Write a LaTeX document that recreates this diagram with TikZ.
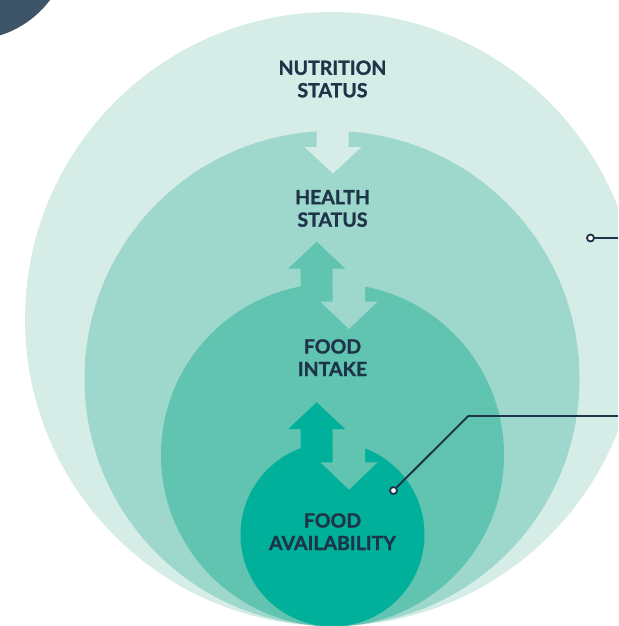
\documentclass[tikz,border=0pt]{standalone}
\usepackage{fontspec}
\setmainfont{Lato}[BoldFeatures={FakeBold=1.2}]
\definecolor{cA}{HTML}{D6EDE7}
\definecolor{cB}{HTML}{9ED7CB}
\definecolor{cC}{HTML}{60C4B1}
\definecolor{cD}{HTML}{00B09A}
\definecolor{navy}{HTML}{1E3449}
\definecolor{corner}{HTML}{3E5468}
\tikzset{
  lbl/.style={font=\fontsize{19.5}{22.5}\selectfont\bfseries, text=navy, align=center, anchor=base, inner sep=0pt},
  marker/.style={circle, draw=navy, fill=white, line width=1.8pt, minimum size=7pt, inner sep=0pt},
  leader/.style={draw=navy, line width=2pt},
}
\begin{document}
\begin{tikzpicture}[x=1pt,y=-1pt]
\useasboundingbox (0,0) rectangle (618,626);
\begin{scope}
\clip (0,0) rectangle (618,626);
% dark corner
\fill[corner] (-30,-60) circle[radius=100];
% circles
\fill[cA] (332,319) circle[radius=307];
\fill[cB] (332,378.5) circle[radius=247.5];
% down arrow 1 (outer colour cut into circle 2)
\fill[cA] (316.5,122) -- (348.5,122) -- (348.5,147) -- (361.5,147) -- (333,173.5) -- (304.5,147) -- (316.5,147) -- cycle;
\fill[cC] (332.5,455) circle[radius=171.5];
% pair 2
\fill[cC] (300.7,296) -- (300.7,268.5) -- (288.3,268.5) -- (316.7,241.7) -- (345.1,268.5) -- (332.7,268.5) -- (332.7,296) -- cycle;
\fill[cB] (332.7,279) -- (365,279) -- (365,301.7) -- (377.5,301.7) -- (349,329) -- (320.3,301.7) -- (332.7,301.7) -- cycle;
\fill[cD] (332.5,534.5) circle[radius=92];
% pair 3
\fill[cD] (300.7,457) -- (300.7,429) -- (288.3,429) -- (316.7,402.3) -- (345.1,429) -- (332.7,429) -- (332.7,457) -- cycle;
\fill[cC] (332.7,439.5) -- (365,439.5) -- (365,462.3) -- (377.5,462.3) -- (349,489.7) -- (320.3,462.3) -- (332.7,462.3) -- cycle;
\end{scope}
% labels (anchor at baseline of last line)
\node[lbl] (nut) at (332.5,97.3) {NUTRITION\\STATUS};
\node[lbl] (hea) at (332.5,226.7) {HEALTH\\STATUS};
\node[lbl] (int) at (332.5,376) {FOOD\\INTAKE};
\node[lbl] (ava) at (332.5,550) {FOOD\\AVAILABILITY};
% leaders
\coordinate (e1) at (618,238);
\coordinate (bend) at (468.3,416);
\coordinate (e2) at (618,416);
\draw[leader] (e1) -- (594,238);
\draw[leader] (bend) -- (e2);
\draw[leader] (393.5,490.5) -- (bend);
\node[marker] (m1) at (590.5,238) {};
\node[marker] (m2) at (393.5,490.5) {};
\end{tikzpicture}
\end{document}
